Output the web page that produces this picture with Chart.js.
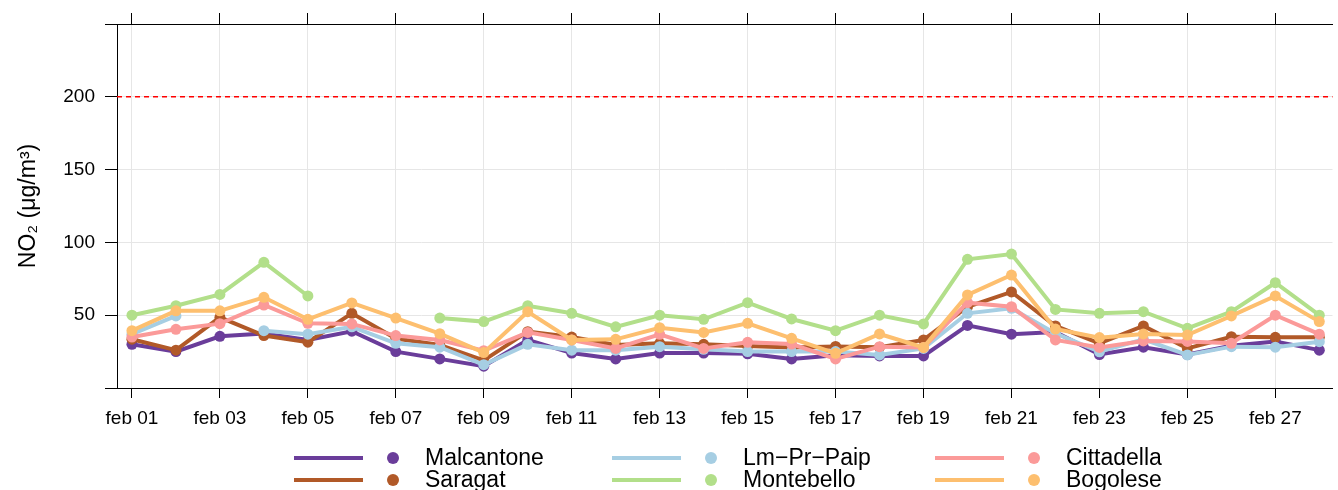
<!DOCTYPE html>
<html>
<head>
<meta charset="utf-8">
<script src="https://cdn.jsdelivr.net/npm/chart.js@4.4.1/dist/chart.umd.min.js"></script>
<style>
html, body { margin: 0; padding: 0; background: #fff; }
#wrap { width: 1338px; height: 490px; }
</style>
</head>
<body>
<div id="wrap"><canvas id="no2Chart" width="1338" height="490"></canvas></div>
<script>
// daily NO2 values, feb 01 .. feb 28 (null = no data)
const days = ['feb 01', 'feb 02', 'feb 03', 'feb 04', 'feb 05', 'feb 06', 'feb 07',
              'feb 08', 'feb 09', 'feb 10', 'feb 11', 'feb 12', 'feb 13', 'feb 14',
              'feb 15', 'feb 16', 'feb 17', 'feb 18', 'feb 19', 'feb 20', 'feb 21',
              'feb 22', 'feb 23', 'feb 24', 'feb 25', 'feb 26', 'feb 27', 'feb 28'];
const tickDays = [0, 2, 4, 6, 8, 10, 12, 14, 16, 18, 20, 22, 24, 26];
const tickLabels = ['feb 01', 'feb 03', 'feb 05', 'feb 07', 'feb 09', 'feb 11', 'feb 13',
                    'feb 15', 'feb 17', 'feb 19', 'feb 21', 'feb 23', 'feb 25', 'feb 27'];
const yTicks = [0, 50, 100, 150, 200, 250];
const limitValue = 200;

const malcantone = [30, 25, 35.5, 37.5, 33, 39, 25, 20, 15, 33, 24, 20, 24, 24,
                    23.5, 20, 22.5, 22, 22, 43, 37, 38.5, 23, 28, 23, 29, 32, 26];
const saragat    = [33.5, 26, 48.5, 36, 31.5, 51.3, 34, 29.5, 19, 38.7, 35, 29.5, 30.7, 30,
                    28.8, 27.9, 28.5, 28, 33, 55.8, 66, 42.6, 30.7, 42.6, 27.2, 35.2, 34.8, 34.8];
const lmPrPaip   = [37, 49.5, null, 39.4, 37, 42, 30.7, 28, 16, 30, 26, 26, 28.4, 26.6,
                    25, 25, 25, 22.7, 27.2, 51.3, 54.7, 37.5, 24.9, 33.4, 22.7, 28.4, 28, 31.8];
const montebello = [50, 56.5, 64.3, 86.3, 63.2, null, null, 48, 45.6, 56.5, 51.3, 42, 50, 47.2,
                    58.6, 47.4, 39.4, 50, 44, 88.4, 92, 54, 51.3, 52.4, 41, 52.4, 72.3, 50];
const cittadella = [35, 40.3, 44.2, 57, 44.4, 44, 36, 33, 25.6, 38.2, 33, 27.2, 36.9, 27.2,
                    31.4, 30.2, 20, 28.4, 27.9, 58.6, 55.8, 33, 27.9, 32.3, 32, 30.7, 50, 37];
const bogolese   = [39.4, 53, 53, 62.3, 47.2, 58.4, 48, 37.3, 24.3, 52.4, 33, 33.4, 41.4, 38.2,
                    44.4, 34.1, 23.8, 37.1, 27.9, 63.9, 77.6, 40.5, 34.6, 37.1, 36.4, 49.5, 63.2, 45.6];

const stations = ['Malcantone', 'Saragat', 'Lm\u2212Pr\u2212Paip', 'Montebello', 'Cittadella', 'Bogolese'];
const stationValues = [malcantone, saragat, lmPrPaip, montebello, cittadella, bogolese];
const colors = ['#6a3d9a', '#b15928', '#a6cee3', '#b2df8a', '#fb9a99', '#fdbf6f'];

const FONT = '"Liberation Sans", Arial, Helvetica, sans-serif';

const datasets = stations.map((name, k) => ({
    label: name,
    data: stationValues[k].map((v, i) => ({ x: i, y: v })),
    borderColor: colors[k],
    backgroundColor: colors[k],
    pointBackgroundColor: colors[k],
    borderWidth: 4,
    pointRadius: 5.5,
    pointBorderWidth: 0,
    tension: 0,
    spanGaps: false,
    order: stations.length - k   // later stations drawn on top
}));

// red dashed limit line
const limitLine = {
    id: 'limitLine',
    beforeDatasetsDraw(chart) {
        const { ctx, chartArea } = chart;
        const y = chart.scales.y.getPixelForValue(limitValue);
        ctx.save();
        ctx.strokeStyle = '#ff0000';
        ctx.lineWidth = 1.5;
        ctx.setLineDash([5, 4]);
        ctx.beginPath();
        ctx.moveTo(chartArea.left, y);
        ctx.lineTo(chartArea.right, y);
        ctx.stroke();
        ctx.restore();
    }
};

// legend in three columns, two rows
const bottomLegend = {
    id: 'bottomLegend',
    afterDraw(chart) {
        const { ctx } = chart;
        const colX = [294, 612, 935];
        const rowY = [458, 480];
        ctx.save();
        ctx.font = '23px ' + FONT;
        ctx.textBaseline = 'middle';
        ctx.textAlign = 'left';
        chart.data.datasets.forEach((ds, k) => {
            const x = colX[Math.floor(k / 2)];
            const y = rowY[k % 2];
            ctx.strokeStyle = ds.borderColor;
            ctx.lineWidth = 4;
            ctx.beginPath();
            ctx.moveTo(x, y);
            ctx.lineTo(x + 69, y);
            ctx.stroke();
            ctx.fillStyle = ds.borderColor;
            ctx.beginPath();
            ctx.arc(x + 99, y, 6, 0, Math.PI * 2);
            ctx.fill();
            ctx.fillStyle = '#000';
            ctx.fillText(ds.label, x + 131, y + 1);
        });
        ctx.restore();
    }
};

const setDayTicks = scale => { scale.ticks = tickDays.map(v => ({ value: v })); };

new Chart(document.getElementById('no2Chart'), {
    type: 'line',
    data: { datasets },
    options: {
        responsive: false,
        devicePixelRatio: 1,
        animation: false,
        layout: { padding: 0 },
        plugins: { legend: { display: false }, tooltip: { enabled: false } },
        scales: {
            x: {
                type: 'linear',
                position: 'bottom',
                min: -0.34,
                max: 27.3,
                afterBuildTicks: setDayTicks,
                afterFit: scale => { scale.height = 102; },
                grid: { color: '#e6e6e6', lineWidth: 1, tickLength: 10, tickColor: '#000' },
                border: { color: '#000', width: 1 },
                ticks: {
                    autoSkip: false,
                    maxRotation: 0,
                    padding: 9,
                    color: '#000',
                    font: { family: FONT, size: 19 },
                    callback: value => tickLabels[tickDays.indexOf(value)]
                }
            },
            x2: {
                type: 'linear',
                position: 'top',
                min: -0.34,
                max: 27.3,
                afterBuildTicks: setDayTicks,
                afterFit: scale => { scale.height = 24; },
                grid: { drawOnChartArea: false, tickLength: 11, tickColor: '#000' },
                border: { color: '#000', width: 1 },
                ticks: { autoSkip: false, maxRotation: 0, callback: () => '' }
            },
            y: {
                min: 0,
                max: 250,
                afterBuildTicks: scale => { scale.ticks = yTicks.map(v => ({ value: v })); },
                afterFit: scale => { scale.width = 117; },
                grid: {
                    color: c => (c.tick && c.tick.value % 250 === 0) ? 'rgba(0,0,0,0)' : '#e6e6e6',
                    tickLength: 12,
                    tickColor: '#000'
                },
                border: { color: '#000', width: 1 },
                ticks: {
                    padding: 10,
                    color: '#000',
                    font: { family: FONT, size: 19 },
                    callback: value => (value === 0 || value === 250) ? '' : value
                },
                title: {
                    display: true,
                    text: 'NO\u2082 (\u03bcg/m\u00b3)',
                    color: '#000',
                    font: { family: FONT, size: 23 },
                    padding: { top: 15, bottom: 0 }
                }
            }
        }
    },
    plugins: [limitLine, bottomLegend]
});
</script>
</body>
</html>
